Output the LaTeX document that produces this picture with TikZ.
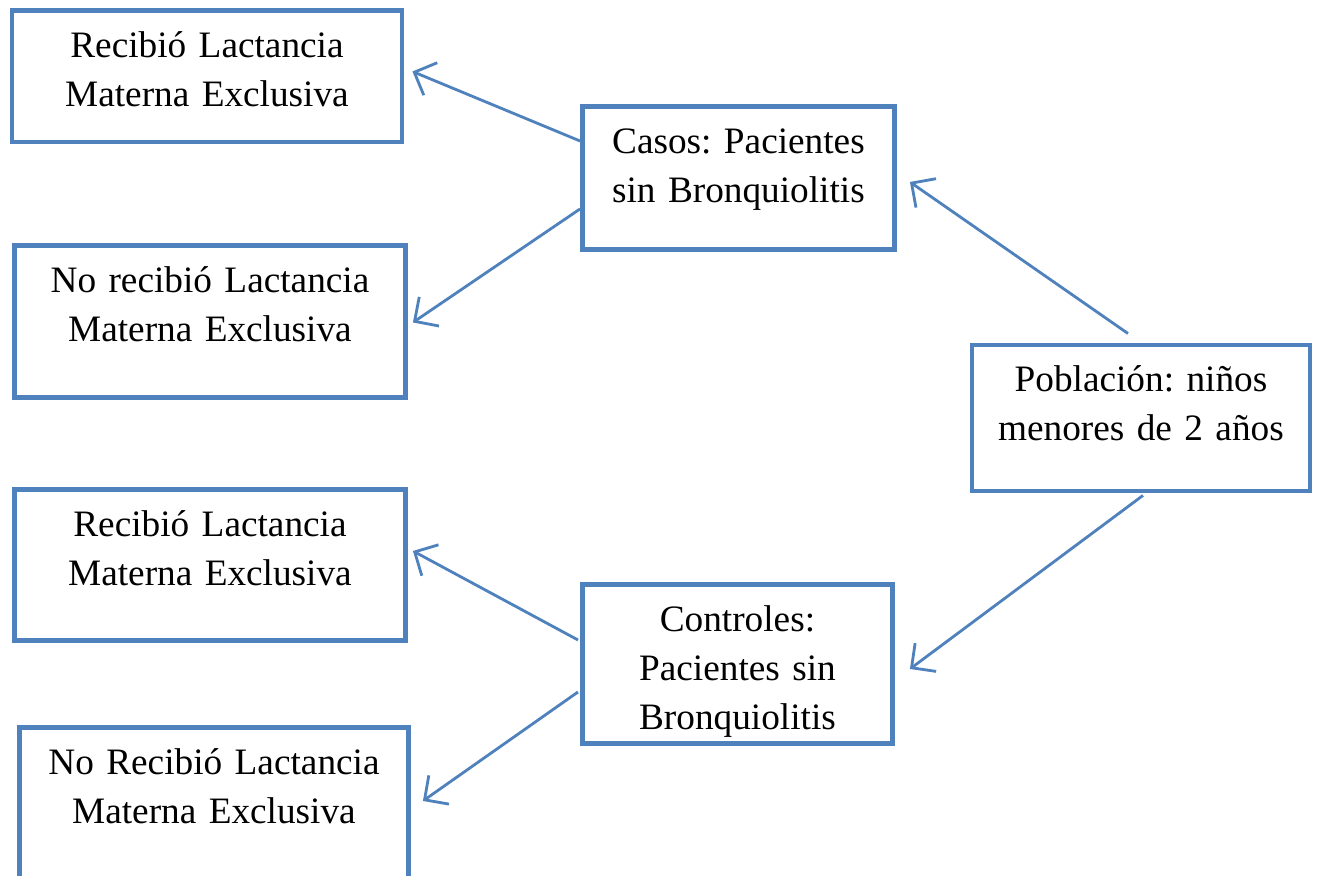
\documentclass[tikz,border=0pt]{standalone}
\usepackage{fontspec}
\setmainfont{Liberation Serif}
\usetikzlibrary{arrows.meta}

\definecolor{azul}{RGB}{79,129,189}

\begin{document}
\frenchspacing
\begin{tikzpicture}[
		x=0.01cm, y=-0.01cm,
		caja/.style 2 args={draw=azul, line width=1.4pt, anchor=north west,
			inner xsep=0pt, inner ysep=0pt, align=center,
			text width=#1*0.01cm, text height=0.47cm, text depth=#2*0.01cm,
			font=\fontsize{10.6}{13.9}\selectfont},
		flecha/.style={draw=azul, line width=0.8pt,
			-{Straight Barb[length=5pt, width=10pt, line width=0.8pt]}}
	]
  \clip (0,0) rectangle (1318,876);
  \node (rec1) [caja={390}{84}] at (9.5,8.5) {Recibió Lactancia\\Materna Exclusiva};
  \node (norec1) [caja={391}{105}] at (12,243) {No recibió Lactancia\\Materna Exclusiva};
  \node (casos) [caja={312}{96}] at (580,104) {Casos: Pacientes\\sin Bronquiolitis};
  \node (pob) [caja={338}{99}] at (969.5,342.5) {Población: niños\\menores de 2 años};
  \node (rec2) [caja={391}{104}] at (12,487) {Recibió Lactancia\\Materna Exclusiva};
  \node (ctrl) [caja={310}{112}] at (580,582) {Controles:\\Pacientes sin\\Bronquiolitis};
  \node (norec2) [caja={389}{110}] at (17,725) {No Recibió Lactancia\\Materna Exclusiva};

  \draw[flecha] ([shift={(-13,-9)}]pob.north) -- ([shift={(13,4)}]casos.east);
  \draw[flecha] ([shift={(2,2)}]pob.south) -- ([shift={(15,5)}]ctrl.east);
  \draw[flecha] ([shift={(0,-37)}]casos.west) -- ([shift={(8,-5)}]rec1.east);
  \draw[flecha] ([shift={(0,31)}]casos.west) -- ([shift={(5,1)}]norec1.east);
  \draw[flecha] ([shift={(-2,-24)}]ctrl.west) -- ([shift={(5,-14)}]rec2.east);
  \draw[flecha] ([shift={(-2,28)}]ctrl.west) -- ([shift={(12,-5)}]norec2.east);
\end{tikzpicture}
\end{document}
